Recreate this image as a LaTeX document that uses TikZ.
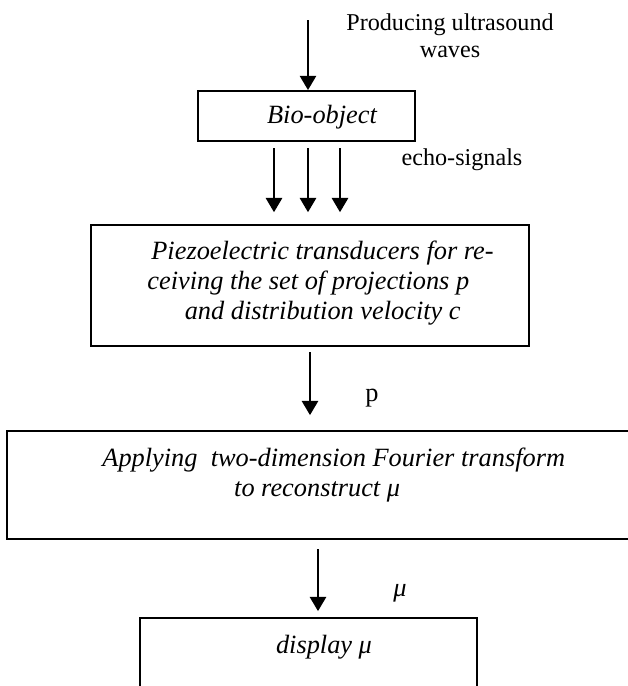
\documentclass[tikz,border=0pt]{standalone}
\usepackage{fontspec}
\setmainfont{Liberation Serif}
\usetikzlibrary{arrows.meta}

\tikzset{
  box/.style={draw,line width=0.9pt,inner sep=0pt},
  boxtext/.style={font=\fontsize{12}{13.8}\selectfont\itshape,inner sep=0pt,align=left},
  note/.style={font=\fontsize{11}{12.4}\selectfont,inner sep=0pt,align=center},
  flow/.style={->,line width=0.7pt}
}

\begin{document}
\begin{tikzpicture}[x=0.016cm,y=-0.016cm,>={Triangle[width=7.5pt,length=6.5pt]}]
\useasboundingbox (0,0) rectangle (628,686);
\clip (0,0) rectangle (628,686);
% boxes
\node[box,minimum width=3.472cm,minimum height=0.8cm] (bio) at (306.5,116) {};
\node[box,minimum width=7.008cm,minimum height=1.936cm] (piezo) at (310,285.5) {};
\node[box,minimum width=10.448cm,minimum height=1.728cm] (apply) at (333.5,485) {};
\node[box,minimum width=5.392cm,minimum height=1.632cm] (show) at (308.5,669) {};
% texts in the boxes
\node[boxtext] (biotext) at (322,117) {Bio-object};
\node[boxtext,anchor=west] (piezotext) at (147,283) {\hspace*{1.8pt}Piezoelectric transducers for re-\\ceiving the set of projections p\\\hspace*{17pt}and distribution velocity c};
\node[boxtext,anchor=west] (applytext) at (102,475) {Applying\ \ two-dimension Fourier transform\\\hspace*{60pt}to reconstruct μ};
\node[boxtext] (showtext) at (324,647) {display μ};
% labels
\node[note] (waves) at (450,36) {Producing ultrasound\\waves};
\node[note] (echo) at (462,160) {echo-signals};
\node[font=\fontsize{12}{14}\selectfont,inner sep=0pt] (plabel) at (372,398) {p};
\node[font=\fontsize{12}{14}\selectfont\itshape,inner sep=0pt] (mulabel) at (400,593) {μ};
% arrows
\coordinate (src) at (308,20);
\draw[flow] (src) -- (src |- bio.north);
\coordinate (e1) at (274,148);
\coordinate (e2) at (308,148);
\coordinate (e3) at (340,148);
\foreach \e in {e1,e2,e3}
  \draw[flow,shorten >=5.4pt] (\e) -- (\e |- piezo.north);
\coordinate (pout) at (310,352);
\draw[flow,shorten >=6.8pt] (pout) -- (pout |- apply.north);
\coordinate (muout) at (318,549);
\draw[flow,shorten >=2.7pt] (muout) -- (muout |- show.north);
\end{tikzpicture}
\end{document}
